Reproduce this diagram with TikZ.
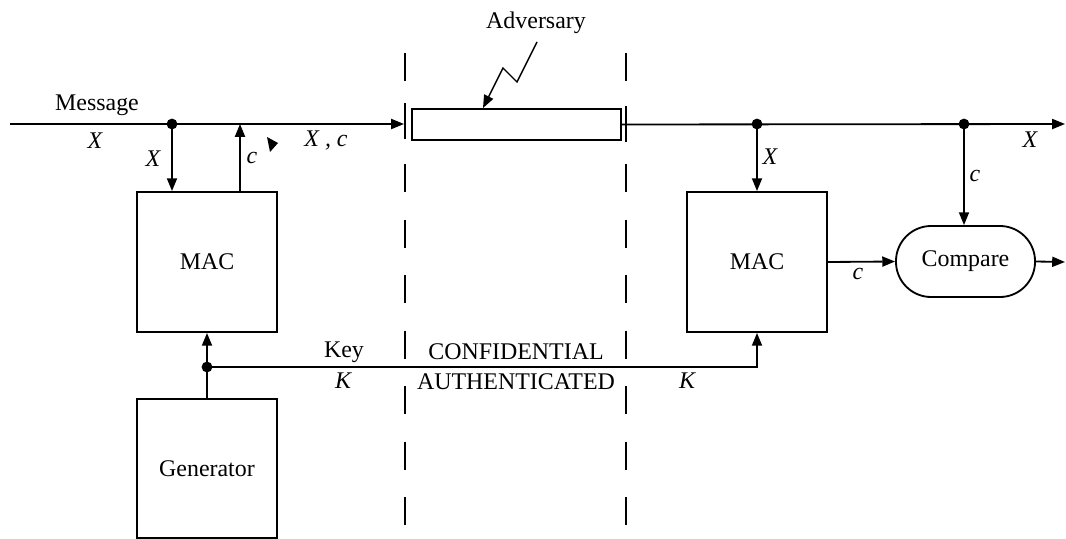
\documentclass[tikz,border=0pt]{standalone}
\usepackage{fontspec}
\setmainfont{Liberation Serif}
\usetikzlibrary{arrows.meta}

\begin{document}
\begin{tikzpicture}[
x=0.025cm, y=-0.025cm,
line width=1.3pt,
every node/.style={font=\fontsize{17}{20}\selectfont},
box/.style={draw, minimum width=3.5cm, minimum height=3.5cm, inner sep=0pt},
chan/.style={draw, minimum width=5.225cm, minimum height=0.775cm, inner sep=0pt},
cmp/.style={draw, rounded corners=0.88cm, minimum width=3.475cm, minimum height=1.775cm, inner sep=0pt},
dot/.style={circle, fill, inner sep=0pt, minimum size=0.27cm},
lbl/.style={inner sep=1pt},
var/.style={inner sep=1pt, font=\fontsize{17}{20}\selectfont\itshape},
arrow/.style={-{Triangle[length=0.32cm, width=0.25cm]}},
zone/.style={dash pattern=on 0.7cm off 0.6875cm}
]
\useasboundingbox (0,0) rectangle (1066,539);

% blocks
\node[box] (macA) at (207,262) {MAC};
\node[box, minimum height=3.475cm] (gen) at (207,468.5) {Generator};
\node[box] (macB) at (757,262) {MAC};
\node[cmp] (cmp) at (965.5,261.5) {Compare};
\node[chan] (chan) at (516.5,124.5) {};

% points on the lines
\coordinate (in) at (10,124);
\coordinate (tapL) at (172,124);
\coordinate (cIn) at (240,124);
\coordinate (gateL) at (404,124);
\coordinate (tapR) at (757,124);
\coordinate (tapC) at (964,124);
\coordinate (out) at (1065,124);
\coordinate (kdot) at (207,367);
\coordinate (kend) at (757,367);
\coordinate (res) at (1065,262);

% channel boundaries
\draw[zone] (405,53) -- (405,539);
\draw[zone] (626,53) -- (626,539);
\draw (405,103) -- (405,139);
\draw (626,106) -- (626,142);

% message path
\draw[arrow] (in) -- (gateL);
\draw[arrow] (chan.east) -- (out);
\draw[arrow] (tapL) -- (tapL |- macA.north);
\draw[arrow] (macA.north -| cIn) -- (cIn);
\draw[arrow] (tapR) -- (macB.north);
\draw[arrow] (tapC) -- (tapC |- cmp.north);
\draw[arrow] (macB.east) -- (cmp.west);
\draw[arrow] (cmp.east) -- (res);

% key path
\draw (gen.north) -- (kdot);
\draw[arrow] (kdot) -- (macA.south);
\draw[arrow] (kdot) -- (kend) -- (macB.south);

\node[dot] (d1) at (tapL) {};
\node[dot] (d2) at (tapR) {};
\node[dot] (d3) at (tapC) {};
\node[dot] (d4) at (kdot) {};

% adversary
\node[lbl] (adv) at (536,23) {Adversary};
\draw[arrow, line width=1pt] (537,42) -- (517,82) -- (503,68) -- (483,108);
\fill (267,137) -- (278,143) -- (270,152) -- cycle;

% labels
\node[lbl] (msg) at (97,105) {Message};
\node[var] (xin) at (95,141) {X};
\node[var] (xa) at (153,159) {X};
\node[var] (ca) at (252,158) {c};
\node[var] (xc) at (326,141) {X , c};
\node[var] (xb) at (770,157) {X};
\node[var] (cb) at (975,176) {c};
\node[var] (xout) at (1030,140) {X};
\node[var] (cc) at (858,274) {c};
\node[lbl] (key) at (344,352) {Key};
\node[var] (ka) at (343,381) {K};
\node[var] (kb) at (687,381) {K};
\node[lbl] (conf) at (516,352) {CONFIDENTIAL};
\node[lbl] (auth) at (516,382) {AUTHENTICATED};
\end{tikzpicture}
\end{document}
